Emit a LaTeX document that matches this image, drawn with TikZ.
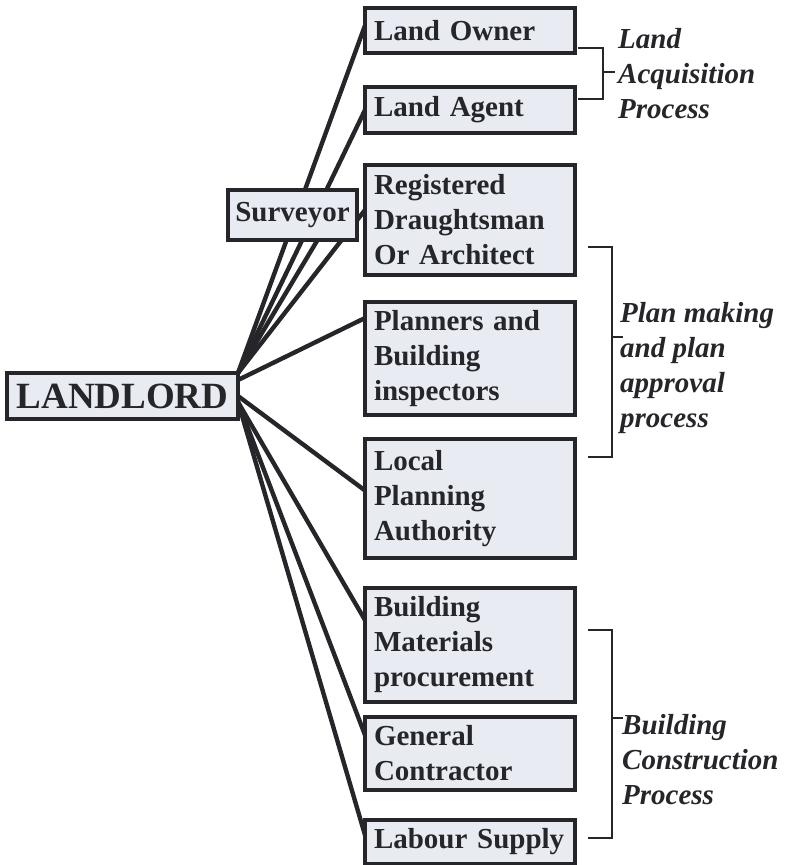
\documentclass[tikz,border=0pt]{standalone}
\usepackage{fontspec}
\setmainfont{Liberation Serif}
\usetikzlibrary{positioning,backgrounds}
\definecolor{ink}{RGB}{38,38,42}
\definecolor{boxfill}{RGB}{232,236,242}

\begin{document}
\begin{tikzpicture}[
    x=1pt, y=-1pt,
    box/.style={draw=ink, line width=3.2pt, fill=boxfill, text=ink, outer sep=0pt},
    actor/.style={box, align=left, text width=192pt, inner xsep=9pt, inner ysep=2pt,
        font=\bfseries\fontsize{29}{35}\selectfont},
    head/.style={box, anchor=north west, inner xsep=4pt, inner ysep=0pt},
    group/.style={text=ink, align=left, inner sep=0pt, anchor=west,
        font=\bfseries\itshape\fontsize{29}{35}\selectfont},
    link/.style={draw=ink, line width=4.4pt},
    brace/.style={draw=ink, line width=2.8pt}
]
\useasboundingbox (0,0) rectangle (789,865);

% right column
\node[actor, anchor=north west, minimum height=45pt] (owner) at (365,8) {Land Owner};
\node[actor, below=34pt of owner, minimum height=46pt] (agent) {Land Agent};
\node[actor, below=32pt of agent, minimum height=110pt] (reg) {Registered\\Draughtsman\\Or Architect};
\node[actor, below=27pt of reg, minimum height=113pt] (plan) {Planners and\\Building\\inspectors};
\node[actor, below=24pt of plan, minimum height=119pt] (lpa) {Local\\Planning\\Authority};
\node[actor, below=30pt of lpa, minimum height=114pt] (mat) {Building\\Materials\\procurement};
\node[actor, below=15pt of mat, minimum height=73pt] (gen) {General\\Contractor};
\node[actor, below=30pt of gen, minimum height=44pt] (lab) {Labour Supply};

% left side
\node[head, minimum width=231pt, minimum height=46pt,
      font=\bfseries\fontsize{37}{40}\selectfont] (lord) at (7,373) {LANDLORD};
\node[head, minimum width=129pt, minimum height=50pt,
      font=\bfseries\fontsize{29}{35}\selectfont] (surv) at (228,190) {Surveyor};

% fan of links, kept behind the boxes
\begin{scope}[on background layer]
\draw[link] (lord.north east) -- ([yshift=5pt]owner.west);
\draw[link] (lord.north east) -- (agent.west);
\draw[link] (lord.north east) -- ([xshift=40pt]surv.center);
\draw[link] (lord.north east) -- ([yshift=10pt]reg.west);
\draw[link] ([yshift=-7pt]lord.north east) -- ([yshift=-16pt]plan.north west);
\draw[link] (lord.east) -- ([yshift=8pt]lpa.west);
\draw[link] ([yshift=-6pt]lord.east) -- ([yshift=-32pt]mat.north west);
\draw[link] ([yshift=-6pt]lord.east) -- ([yshift=-18pt]gen.north west);
\draw[link] ([yshift=-6pt]lord.east) -- ([yshift=-15pt]lab.north west);
\end{scope}

% process brackets
\draw[brace] (578,48) -| (603,99) -- (578,99);
\draw[brace] (603,72) -- (615,72);
\node[group] (acq) at (618,74) {Land\\Acquisition\\Process};

\draw[brace] (588,247) -| (612,457) -- (588,457);
\draw[brace] (612,337) -- (623,337);
\node[group] (appr) at (620,368) {Plan making\\and plan\\approval\\process};

\draw[brace] (588,630) -| (612,838) -- (588,838);
\draw[brace] (612,718) -- (623,718);
\node[group] (cons) at (622,760) {Building\\Construction\\Process};
\end{tikzpicture}
\end{document}
